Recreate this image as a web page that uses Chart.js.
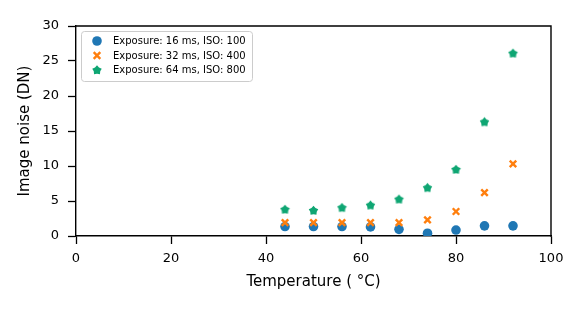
<!DOCTYPE html>
<html><head><meta charset="utf-8">
<script src="https://cdn.jsdelivr.net/npm/chart.js@4/dist/chart.umd.min.js"></script>
<style>html,body{margin:0;padding:0;background:#fff;}canvas{display:block;}</style>
</head><body>
<canvas id="c" width="582" height="311"></canvas>
<script>
const temperatures = [44, 50, 56, 62, 68, 74, 80, 86, 92];
const noise16 = [1.35, 1.35, 1.35, 1.3, 0.95, 0.4, 0.85, 1.45, 1.45];
const noise32 = [1.9, 1.9, 1.9, 1.9, 1.9, 2.3, 3.5, 6.2, 10.3];
const noise64 = [3.8, 3.65, 4.05, 4.4, 5.25, 6.9, 9.5, 16.3, 26.1];
const seriesLabels = ['Exposure: 16 ms, ISO: 100', 'Exposure: 32 ms, ISO: 400', 'Exposure: 64 ms, ISO: 800'];
const xTicks = [0, 20, 40, 60, 80, 100];
const yTicks = [0, 5, 10, 15, 20, 25, 30];
const colors = ['#1f77b4', '#ff7f0e', '#0fa673'];
const FONT = "'DejaVu Sans', sans-serif";

function starPath(ctx, cx, cy, R, r) {
  ctx.beginPath();
  for (let i = 0; i < 10; i++) {
    const rad = i % 2 === 0 ? R : r;
    const a = -Math.PI / 2 + i * Math.PI / 5;
    const x = cx + rad * Math.cos(a), y = cy + rad * Math.sin(a);
    if (i === 0) ctx.moveTo(x, y); else ctx.lineTo(x, y);
  }
  ctx.closePath();
}
function makeStar(color) {
  const c = document.createElement('canvas');
  c.width = 11; c.height = 11;
  const g = c.getContext('2d');
  g.fillStyle = color;
  starPath(g, 5.5, 5.8, 5.0, 3.4);
  g.fill();
  return c;
}
const starImg = makeStar(colors[2]);

function mk(vals) { return temperatures.map((t, i) => ({x: t, y: vals[i]})); }

const framePlugin = {
  id: 'frame',
  afterDraw(chart) {
    const {ctx, chartArea: a} = chart;
    ctx.save();
    ctx.strokeStyle = '#000';
    ctx.lineWidth = 1.4;
    ctx.beginPath();
    ctx.moveTo(a.left - 0.7, a.top);
    ctx.lineTo(a.right, a.top);
    ctx.lineTo(a.right, a.bottom + 0.7);
    ctx.stroke();
    // legend
    const lx = a.left + 5.5, ly = a.top + 5.5, lw = 171, lh = 50;
    ctx.beginPath();
    if (ctx.roundRect) ctx.roundRect(lx, ly, lw, lh, 3); else ctx.rect(lx, ly, lw, lh);
    ctx.fillStyle = 'rgba(255,255,255,0.8)';
    ctx.fill();
    ctx.strokeStyle = '#cccccc';
    ctx.lineWidth = 1;
    ctx.stroke();
    const rows = [ly + 9.5, ly + 24, ly + 38.5];
    const mx = a.left + 21;
    // circle
    ctx.fillStyle = colors[0];
    ctx.beginPath(); ctx.arc(mx, rows[0], 4.8, 0, Math.PI * 2); ctx.fill();
    // x
    ctx.strokeStyle = colors[1]; ctx.lineWidth = 2.4;
    const s = 3.3;
    ctx.beginPath();
    ctx.moveTo(mx - s, rows[1] - s); ctx.lineTo(mx + s, rows[1] + s);
    ctx.moveTo(mx + s, rows[1] - s); ctx.lineTo(mx - s, rows[1] + s);
    ctx.stroke();
    // star
    ctx.fillStyle = colors[2];
    starPath(ctx, mx, rows[2] + 0.3, 5.0, 3.4); ctx.fill();
    ctx.fillStyle = '#000';
    ctx.font = '10px ' + FONT;
    ctx.textBaseline = 'middle';
    ctx.textAlign = 'left';
    seriesLabels.forEach((t, i) => ctx.fillText(t, a.left + 37, rows[i] + 0.5));
    ctx.restore();
  }
};

new Chart(document.getElementById('c'), {
  type: 'scatter',
  data: {
    datasets: [
      {label: seriesLabels[0], data: mk(noise16), order: 3, pointStyle: 'circle', pointRadius: 4.8, pointHoverRadius: 4.8, backgroundColor: colors[0], borderColor: colors[0], borderWidth: 0},
      {label: seriesLabels[1], data: mk(noise32), order: 2, pointStyle: 'crossRot', pointRadius: 4.6, pointHoverRadius: 4.6, backgroundColor: colors[1], borderColor: colors[1], borderWidth: 2.4},
      {label: seriesLabels[2], data: mk(noise64), order: 1, pointStyle: starImg, pointRadius: 5, backgroundColor: colors[2], borderColor: colors[2]}
    ]
  },
  options: {
    responsive: false,
    animation: false,
    events: [],
    layout: {padding: {left: 0, top: 26, right: 31, bottom: 0}},
    plugins: {legend: {display: false}, tooltip: {enabled: false}},
    scales: {
      x: {
        type: 'linear', min: 0, max: 100,
        afterFit(s) { s.height = 75; },
        afterBuildTicks(s) { s.ticks = xTicks.map(v => ({value: v})); },
        grid: {drawOnChartArea: false, drawTicks: true, tickLength: 8, tickColor: '#000', tickWidth: 1.3},
        border: {display: true, color: '#000', width: 1.4},
        ticks: {color: '#000', font: {family: FONT, size: 13}, padding: 7, maxRotation: 0},
        title: {display: true, text: 'Temperature ( °C)', color: '#000', font: {family: FONT, size: 15}, padding: {top: 20, bottom: 20}}
      },
      y: {
        type: 'linear', min: 0, max: 30,
        afterFit(s) { s.width = 76; },
        afterBuildTicks(s) { s.ticks = yTicks.map(v => ({value: v})); },
        grid: {drawOnChartArea: false, drawTicks: true, tickLength: 8, tickColor: '#000', tickWidth: 1.3},
        border: {display: true, color: '#000', width: 1.4},
        ticks: {color: '#000', font: {family: FONT, size: 13}, padding: 9},
        title: {display: true, text: 'Image noise (DN)', color: '#000', font: {family: FONT, size: 15}, padding: {top: 16, bottom: 16}}
      }
    }
  },
  plugins: [framePlugin]
});
</script>
</body></html>
